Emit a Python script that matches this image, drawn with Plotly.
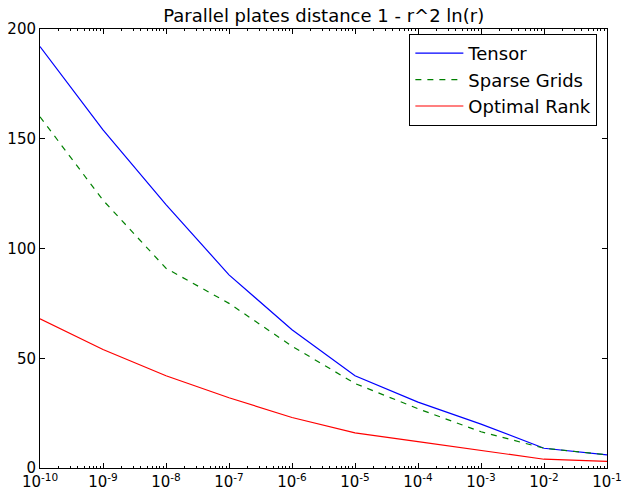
import plotly.graph_objects as go

x_vals = [1e-10, 1e-9, 1e-8, 1e-7, 1e-6, 1e-5, 1e-4, 1e-3, 1e-2, 1e-1]
tensor = [192, 154, 120, 88, 63, 42, 30, 20, 9, 6]
sparse = [160, 122, 91, 75, 55.5, 38.5, 27, 16.5, 9, 6]
optimal = [68, 54, 42, 32, 23, 16, 12, 8, 4, 3]

exps = list(range(-10, 0))
tick_vals = [10.0 ** e for e in exps]
tick_text = ["10<sup>%d</sup>" % e for e in exps]
minor_vals = [k * 10.0 ** e for e in range(-10, -1) for k in range(2, 10)]

FONT = "DejaVu Sans"

fig = go.Figure()
fig.add_trace(go.Scatter(x=x_vals, y=tensor, mode="lines", name="Tensor",
                         line=dict(color="#0000ff", width=1.2)))
fig.add_trace(go.Scatter(x=x_vals, y=sparse, mode="lines", name="Sparse Grids",
                         line=dict(color="#008000", width=1.2, dash="6px,6px")))
fig.add_trace(go.Scatter(x=x_vals, y=optimal, mode="lines", name="Optimal Rank",
                         line=dict(color="#ff0000", width=1.2)))

fig.update_layout(
    width=623, height=489,
    margin=dict(l=40, r=15.5, t=29, b=21),
    paper_bgcolor="white", plot_bgcolor="white",
    font=dict(family=FONT, size=15, color="black"),
    title=dict(text="Parallel plates distance 1 - r^2 ln(r)", x=(40 + 607.5) / 2 / 623,
               xanchor="center", y=1 - 16 / 489, yanchor="middle", yref="container",
               font=dict(family=FONT, size=18, color="black")),
    showlegend=True,
    legend=dict(x=0.983, xanchor="right", y=0.9886, yanchor="top",
                bordercolor="black", borderwidth=1, bgcolor="white",
                font=dict(family=FONT, size=18, color="black"),
                tracegroupgap=0, itemwidth=48),
)
fig.update_xaxes(type="log", range=[-10, -1], tickvals=tick_vals, ticktext=tick_text,
                 ticks="inside", ticklen=5, tickwidth=1, tickcolor="black",
                 showline=True, linecolor="black", linewidth=1, mirror="allticks",
                 showgrid=False, zeroline=False, automargin=False,
                 tickfont=dict(family=FONT, size=15, color="black"),
                 minor=dict(tickvals=minor_vals, ticks="inside", ticklen=2,
                            tickcolor="black", showgrid=False))
fig.update_yaxes(range=[0, 200], tickvals=[0, 50, 100, 150, 200],
                 ticks="inside", ticklen=5, tickwidth=1, tickcolor="black",
                 showline=True, linecolor="black", linewidth=1, mirror="allticks",
                 showgrid=False, zeroline=False, automargin=False,
                 tickfont=dict(family=FONT, size=15, color="black"))

fig.write_html("out.html")
